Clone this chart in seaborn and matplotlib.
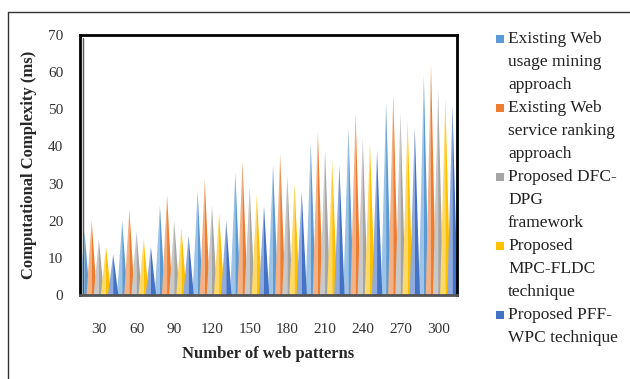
import matplotlib
matplotlib.use('Agg')
import matplotlib.pyplot as plt
import numpy as np
import pandas as pd
import seaborn as sns
from matplotlib.colors import to_rgb
from matplotlib.lines import Line2D
from matplotlib.patches import Polygon, Rectangle


PATTERNS = [30, 60, 90, 120, 150, 180, 210, 240, 270, 300]
WEB_USAGE = [17, 20, 24, 28, 33, 35, 41, 45, 52, 59]
WEB_RANKING = [20, 23, 27, 31, 36, 38, 44, 49, 54, 62]
DFC_DPG = [15, 17, 20, 24, 29, 32, 39, 42, 49, 55]
MPC_FLDC = [13, 15, 18, 22, 27, 30, 36, 41, 47, 53]
PFF_WPC = [11, 13, 16, 20, 24, 28, 35, 39, 45, 51]

SERIES = [
    'Existing Web\nusage mining\napproach',
    'Existing Web\nservice ranking\napproach',
    'Proposed DFC-\nDPG\nframework',
    'Proposed\nMPC-FLDC\ntechnique',
    'Proposed PFF-\nWPC technique',
]
COLORS = ['#5B9BD5', '#ED7D31', '#A5A5A5', '#FFC000', '#4472C4']


def build_frame():
    rows = []
    for name, vals in zip(SERIES, [WEB_USAGE, WEB_RANKING, DFC_DPG,
                                   MPC_FLDC, PFF_WPC]):
        for p, v in zip(PATTERNS, vals):
            rows.append({'patterns': str(p), 'series': name, 'value': v})
    return pd.DataFrame(rows)


def lighten(color, amount):
    r, g, b = to_rgb(color)
    return (r + (1 - r) * amount, g + (1 - g) * amount, b + (1 - b) * amount)


def bars_to_cones(ax, spread=1.45):
    # turn each seaborn bar into a two-tone triangle, like the excel cones
    for p in list(ax.patches):
        x, w, h = p.get_x(), p.get_width(), p.get_height()
        color = p.get_facecolor()
        p.remove()
        cx = x + w / 2
        half = w * spread / 2
        left = Polygon([(cx - half, 0), (cx, h), (cx, 0)], closed=True,
                       facecolor=lighten(color, 0.4), edgecolor='none')
        right = Polygon([(cx, 0), (cx, h), (cx + half, 0)], closed=True,
                        facecolor=color, edgecolor='none')
        ax.add_patch(left)
        ax.add_patch(right)


def draw_legend(fig):
    x0, y0, step = 496 / 630, 1 - 39 / 379, 23 / 379
    line = 0
    for name, color in zip(SERIES, COLORS):
        y = y0 - line * step
        fig.patches.append(Rectangle((x0, y - 4 / 379), 8 / 630, 8 / 379,
                                     transform=fig.transFigure,
                                     facecolor=color, edgecolor='none'))
        for k, part in enumerate(name.split('\n')):
            fig.text(x0 + 12 / 630, y - k * step, part, fontsize=12.5,
                     va='center', ha='left', color='#222222')
        line += len(name.split('\n'))


def main():
    sns.set_theme(style='white')
    plt.rcParams['font.family'] = ['Liberation Serif', 'DejaVu Serif']

    fig = plt.figure(figsize=(6.3, 3.79), dpi=100)
    ax = fig.add_axes([80 / 630, 1 - 295 / 379, 377 / 630, 260 / 379])

    sns.barplot(data=build_frame(), x='patterns', y='value', hue='series',
                palette=COLORS, saturation=1, width=0.95, legend=False,
                ax=ax)
    bars_to_cones(ax)

    ax.set_xlim(-0.5, len(PATTERNS) - 0.5)
    ax.set_ylim(0, 70)
    ax.set_yticks(np.arange(0, 71, 10))
    ax.tick_params(axis='y', length=0, pad=12, labelsize=11,
                   labelcolor='#333333')
    ax.tick_params(axis='x', length=0, pad=20, labelsize=11,
                   labelcolor='#333333')

    for side in ['left', 'top', 'right']:
        ax.spines[side].set_color('black')
        ax.spines[side].set_linewidth(2)
    ax.spines['bottom'].set_color('#555555')
    ax.spines['bottom'].set_linewidth(2)
    # inner wall line for the 3d look
    ax.add_artist(Line2D([0.008, 0.008], [0.0, 0.988],
                         transform=ax.transAxes, color='#555555', lw=1))

    ax.set_xlabel('Number of web patterns', fontsize=12, fontweight='bold',
                  labelpad=7)
    ax.set_ylabel('Computational Complexity (ms)', fontsize=12,
                  fontweight='bold', labelpad=8)

    draw_legend(fig)

    fig.add_artist(Line2D([8 / 630, 1], [1 - 12 / 379, 1 - 12 / 379],
                          transform=fig.transFigure, color='#333333', lw=1))
    fig.add_artist(Line2D([8 / 630, 8 / 630], [0, 1 - 12 / 379],
                          transform=fig.transFigure, color='#333333', lw=1))

    fig.savefig('out.png', dpi=100)


if __name__ == '__main__':
    main()
